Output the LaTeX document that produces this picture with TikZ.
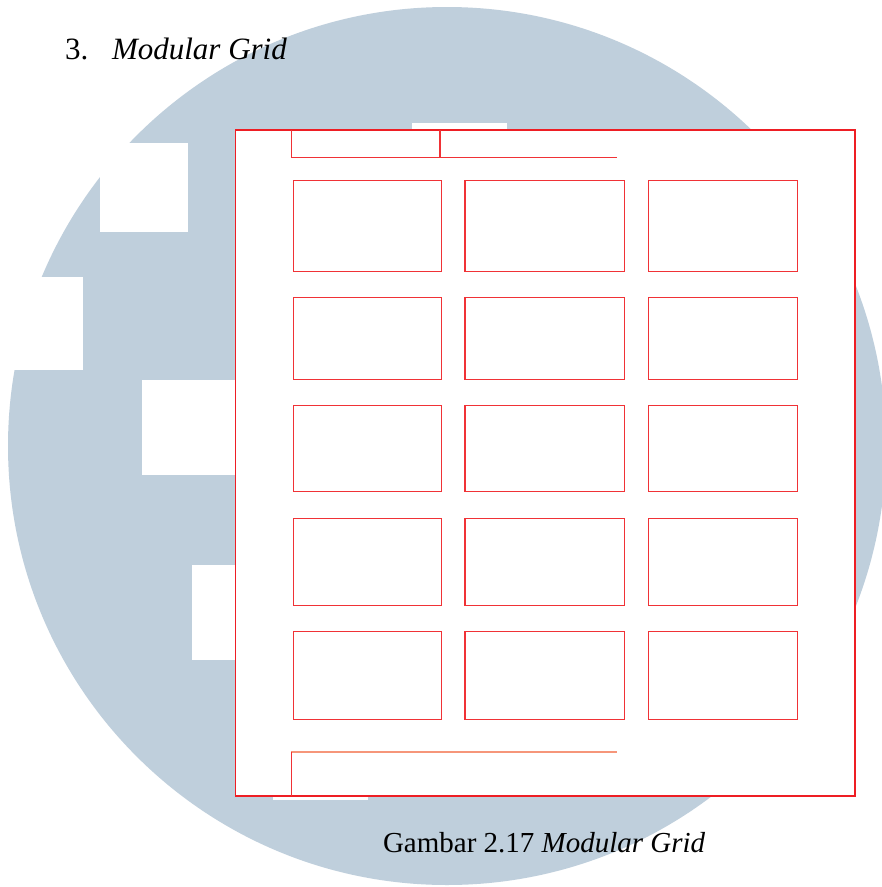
\documentclass[tikz,border=0pt]{standalone}
\usepackage{fontspec}
\setmainfont{Liberation Serif}
\definecolor{wm}{RGB}{191,207,220}
\definecolor{gridred}{RGB}{238,30,36}
\definecolor{boxred}{RGB}{240,50,54}
\definecolor{salmon}{RGB}{246,150,122}
\tikzset{
  frameline/.style={draw=gridred, line width=1.6pt},
  modbox/.style={draw=boxred, line width=1.5pt},
  headline/.style={draw=boxred, line width=1.5pt},
  footline/.style={draw=salmon, line width=1.8pt},
  cutout/.style={fill=white},
  txt/.style={anchor=base west, inner sep=0pt, outer sep=0pt}
}
\begin{document}
\begin{tikzpicture}[x=1pt, y=-1pt]
\useasboundingbox (0,0) rectangle (882,887);
\fill[white] (0,0) rectangle (882,887);
% watermark circle
\fill[wm] (447,446) circle[radius=439];
% white cut-outs of the watermark
\fill[cutout] (100,143) rectangle (188,231.5);
\fill[cutout] (0,277) rectangle (83,370);
\fill[cutout] (142,380) rectangle (240,475);
\fill[cutout] (192,565) rectangle (240,660);
\fill[cutout] (412,123) rectangle (507,131);
\fill[cutout] (273,794) rectangle (368,800);
% page frame
\filldraw[fill=white, frameline] (235.3,129.7) rectangle (855,796);
% header
\draw[headline] (291.3,129.7) -- (291.3,157.7) -- (616.5,157.7);
\draw[headline] (440,129.7) -- (440,157.7);
% footer
\draw[footline] (291.3,751.7) -- (616.5,751.7);
\draw[headline] (291.3,751.7) -- (291.3,796);
% modules
\foreach \ya/\yb in {180.3/271.3, 297.7/379.3, 405.7/491.7, 518.3/605.3, 631.7/719.7}{
  \foreach \xa/\xb in {293.3/441.3, 465/624.3, 648.3/797.7}{
    \draw[modbox] (\xa,\ya) rectangle (\xb,\yb);
  }
}
% texts
\node[txt, font=\fontsize{31}{36}\selectfont] (num) at (65,59) {3.};
\node[txt, font=\fontsize{31}{36}\selectfont\itshape] (title) at (112,59) {Modular Grid};
\node[txt, font=\fontsize{29}{34}\selectfont] (cap) at (383,852) {Gambar 2.17 \textit{Modular Grid}};
\end{tikzpicture}
\end{document}
